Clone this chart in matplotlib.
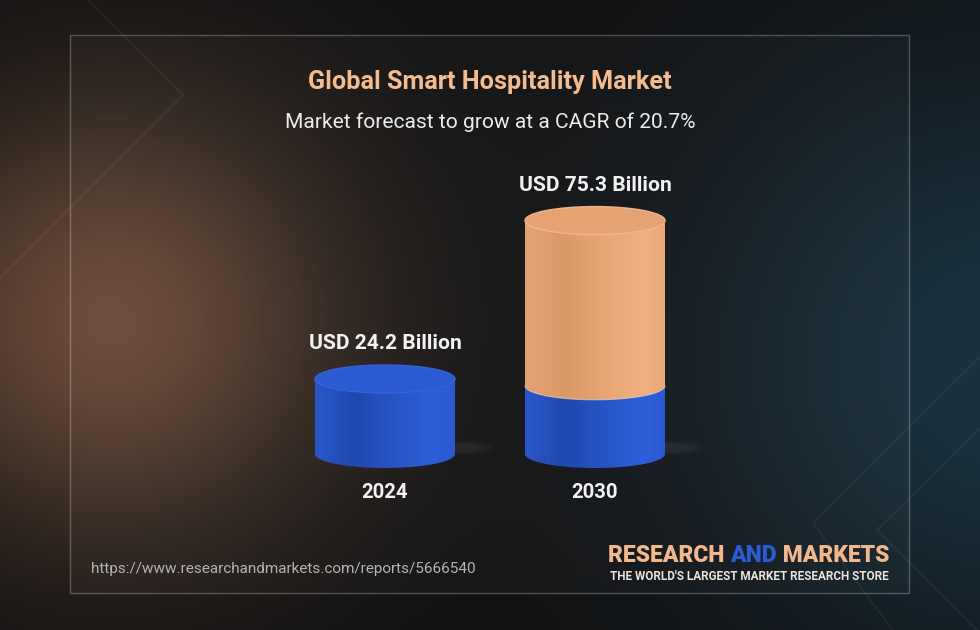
import numpy as np
import matplotlib
matplotlib.use("Agg")
import matplotlib.pyplot as plt
from matplotlib.patches import Ellipse, PathPatch, Rectangle
from matplotlib.path import Path

plt.rcParams['font.family'] = ['Roboto', 'DejaVu Sans']

# data
years = ['2024', '2030']
values = [24.2, 75.3]
blue_part = [24.2, 22.0]          # blue (base) segment of each cylinder
labels = ['USD 24.2 Billion', 'USD 75.3 Billion']
title = 'Global Smart Hospitality Market'
subtitle = 'Market forecast to grow at a CAGR of 20.7%'
url = 'https://www.researchandmarkets.com/reports/5666540'

W, H = 980, 630
fig = plt.figure(figsize=(9.8, 6.3), dpi=100)

# ---- background -------------------------------------------------------
bg = fig.add_axes([0, 0, 1, 1])
bg.set_xlim(0, W)
bg.set_ylim(H, 0)
bg.axis('off')
yy, xx = np.mgrid[0:H, 0:W]
img = np.zeros((H, W, 3)) + np.array([17, 17, 18]) / 255
brown = np.exp(-(((xx - 110) / 230) ** 2 + ((yy - 320) / 220) ** 2))
teal = np.exp(-(((xx - 1000) / 300) ** 2 + ((yy - 360) / 300) ** 2))
img += brown[..., None] * (np.array([88, 58, 38]) / 255)
img += teal[..., None] * (np.array([8, 34, 48]) / 255)
img = np.clip(img, 0, 1)
bg.imshow(img, extent=(0, W, H, 0), aspect='auto', zorder=0)

# panel frame
bg.add_patch(Rectangle((70, 35), 839, 558, facecolor=(1, 1, 1, 0.025),
                       edgecolor=(1, 1, 1, 0.25), lw=1, zorder=1))
# faint chevrons
for xs, ys in [([80, 183, 0], [-8, 95, 278]),
               ([980, 813, 900], [357, 523, 640]),
               ([980, 877, 980], [428, 530, 633])]:
    bg.plot(xs, ys, color='white', alpha=0.05, lw=1.2, zorder=1)

# ---- chart axes (value scale) -----------------------------------------
ax = fig.add_axes([0, 0, 1, 1])
ax.patch.set_alpha(0)
ax.axis('off')
px_x = 210.0   # pixels per category step
px_y = 3.1     # pixels per billion
ax.set_xlim(-385 / px_x, (W - 385) / px_x)
ax.set_ylim(-(H - 454) / px_y, 454 / px_y)

cw = 140 / px_x
ch = 28 / px_y


def grad(stops, n=200):
    t = np.linspace(0, 1, n)
    pos = [s[0] for s in stops]
    cols = np.array([matplotlib.colors.to_rgb(s[1]) for s in stops])
    return np.stack([np.interp(t, pos, cols[:, k]) for k in range(3)], axis=-1)[None, :, :]


blue_stops = [(0, '#2a57c8'), (0.3, '#2149ad'), (0.55, '#2754c4'),
              (0.85, '#2e5fd8'), (1, '#2a59cf')]
orange_stops = [(0, '#e4a274'), (0.28, '#db996a'), (0.55, '#e7a575'),
                (0.85, '#f0b081'), (1, '#eaa878')]


def body(xc, y0, y1, stops, z):
    t = np.linspace(np.pi, 2 * np.pi, 60)
    verts = [(xc - cw / 2, y1), (xc - cw / 2, y0)]
    verts += list(zip(xc + cw / 2 * np.cos(t), y0 + ch / 2 * np.sin(t)))
    verts += [(xc + cw / 2, y1), (xc - cw / 2, y1)]
    path = Path(verts)
    patch = PathPatch(path, facecolor='none', edgecolor='none',
                      transform=ax.transData)
    ax.add_patch(patch)
    im = ax.imshow(grad(stops), extent=(xc - cw / 2, xc + cw / 2, y0 - ch / 2, y1),
                   aspect='auto', zorder=z)
    im.set_clip_path(patch)


for i, (v, b) in enumerate(zip(values, blue_part)):
    # soft floor glow
    for k in range(4):
        ax.add_patch(Ellipse((i + 0.38, 2.0), 0.28 - 0.05 * k, 4.5 - 0.8 * k,
                             facecolor='#cccccc', alpha=0.025, lw=0, zorder=2))
    low_top = min(b, v)
    body(i, 0, low_top, blue_stops, 3)
    if v > low_top:
        body(i, low_top, v, orange_stops, 4)
        t = np.linspace(np.pi, 2 * np.pi, 60)
        ax.plot(i + cw / 2 * np.cos(t), low_top + ch / 2 * np.sin(t),
                color='#f5d9c4', lw=0.8, alpha=0.6, zorder=5)
        top_col, rim = '#e6a272', '#f0b589'
    else:
        top_col, rim = '#2b5ad1', '#3462d8'
    ax.add_patch(Ellipse((i, v), cw, ch, facecolor=top_col, edgecolor=rim,
                         lw=1, zorder=6))
    ax.annotate(labels[i], (i, v), xytext=(0, 35 * 0.72), textcoords='offset points',
                ha='center', va='center', fontsize=15.1, fontweight='bold',
                color='#f2f2f2', zorder=7)
    ax.annotate(years[i], (i, 0), xytext=(0, -39 * 0.72), textcoords='offset points',
                ha='center', va='center', fontsize=14.6, fontweight='bold',
                color='#f2f2f2', zorder=7)

# ---- texts ------------------------------------------------------------
fig.text(490 / W, 1 - 82 / H, title, ha='center', va='center', fontsize=18.2,
         fontweight='bold', color='#f4bb8f')
fig.text(490 / W, 1 - 122 / H, subtitle, ha='center', va='center', fontsize=15.1,
         color='#ececec')
fig.text(91 / W, 1 - 569 / H, url, ha='left', va='center', fontsize=11.0,
         color='#b4b4b4')

t1 = fig.text(608 / W, 1 - 567 / H, 'RESEARCH ', ha='left', va='bottom',
              fontsize=16.5, fontweight='heavy', color='#f2b78b')
t2 = fig.text(0, 0, 'AND', ha='left', va='bottom', fontsize=16.5,
              fontweight='heavy', color='#2c5cd4')
t3 = fig.text(0, 0, ' MARKETS', ha='left', va='bottom', fontsize=16.5,
              fontweight='heavy', color='#f2b78b')
fig.canvas.draw()
r = fig.canvas.get_renderer()
e1 = t1.get_window_extent(r)
t2.set_position(((e1.x1) / W, e1.y0 / H))
e2 = t2.get_window_extent(r)
t3.set_position(((e2.x1) / W, e2.y0 / H))
fig.text(610 / W, 1 - 576 / H, "THE WORLD'S LARGEST MARKET RESEARCH STORE",
         ha='left', va='center', fontsize=8.45, fontweight='bold', color='#ece4dc')

fig.savefig('out.png', dpi=100)
